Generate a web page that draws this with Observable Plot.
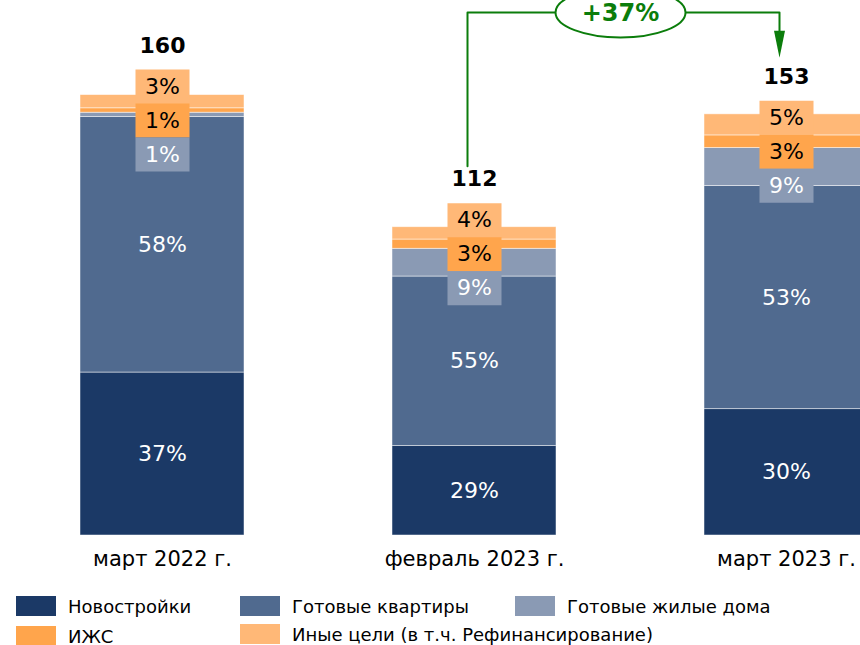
<!DOCTYPE html>
<html><head><meta charset="utf-8">
<script src="https://cdn.jsdelivr.net/npm/d3@7"></script>
<script src="https://cdn.jsdelivr.net/npm/@observablehq/plot@0.6"></script>
<style>
html,body{margin:0;padding:0;background:#fff;overflow:hidden;width:860px;height:645px;}
#wrap{position:relative;width:860px;height:645px;overflow:hidden;font-family:"DejaVu Sans",sans-serif;}
#wrap svg{max-width:none !important;position:absolute;left:0;top:0;}
.leg{position:absolute;display:flex;align-items:center;font-size:18px;color:#000;white-space:nowrap;height:20px;}
.sw{width:40px;height:20px;margin-right:12px;flex:none;}
</style></head><body><div id="wrap"></div>
<script>
// ---- data ----
const periods = ["март 2022 г.", "февраль 2023 г.", "март 2023 г."];
const totals = [160, 112, 153];
const categories = ["Новостройки", "Готовые квартиры", "Готовые жилые дома", "ИЖС", "Иные цели (в т.ч. Рефинансирование)"];
const shareNew = [37, 29, 30];
const shareFlats = [58, 55, 53];
const shareHouses = [1, 9, 9];
const shareIzhs = [1, 3, 3];
const shareOther = [3, 4, 5];
const colors = ["#1b3966", "#506a8f", "#8a9ab4", "#ffa54c", "#ffb877"];
const textColors = ["#fff", "#fff", "#fff", "#000", "#000"];
const green = "#0b7d0b";

// ---- layout ----
const W = 948, H = 580, mTop = 12, mBottom = 45, yMax = 190;
const pInner = 0.474, pOuter = 0.256;
const k = (H - mBottom - mTop) / yMax;           // px per unit
const step = W / (periods.length - pInner + 2 * pOuter);
const boxH = 34, boxW = 54, base = 10;

const shares = [shareNew, shareFlats, shareHouses, shareIzhs, shareOther];
const rows = [];
const anchors = [];
periods.forEach((p, i) => {
  let cum = 0;
  categories.forEach((c, j) => {
    const v = totals[i] * shares[j][i] / 100;
    rows.push({period: p, category: c, share: shares[j][i], y1: cum, y2: cum + v, mid: cum + v / 2, ci: j});
    if (j === 3) anchors.push({period: p, y: cum + v / 2, total: totals[i]});
    cum += v;
  });
});

const boxSym = {draw(ctx) { ctx.rect(-boxW / 2, -boxH / 2, boxW, boxH); }};
const ellipseSym = {draw(ctx) {
  const rx = 65, ry = 25, c = 0.5523;
  ctx.moveTo(rx, 0);
  ctx.bezierCurveTo(rx, ry * c, rx * c, ry, 0, ry);
  ctx.bezierCurveTo(-rx * c, ry, -rx, ry * c, -rx, 0);
  ctx.bezierCurveTo(-rx, -ry * c, -rx * c, -ry, 0, -ry);
  ctx.bezierCurveTo(rx * c, -ry, rx, -ry * c, rx, 0);
  ctx.closePath();
}};
const triSym = {draw(ctx) { ctx.moveTo(-5.5, -27); ctx.lineTo(5.5, -27); ctx.lineTo(0, 0); ctx.closePath(); }};

const totalDy = base - boxH - boxH / 2 - 24;
const smallMarks = [];
[[4, -1], [3, 0], [2, 1]].forEach(([ci, off]) => {
  const sub = rows.filter(d => d.ci === ci).map(d => ({...d, ay: anchors.find(a => a.period === d.period).y}));
  smallMarks.push(Plot.dot(sub, {x: "period", y: "ay", symbol: boxSym, fill: colors[ci], stroke: "none", dy: base + off * boxH}));
  smallMarks.push(Plot.text(sub, {x: "period", y: "ay", text: d => d.share + "%", fill: textColors[ci], fontSize: 22, dy: base + off * boxH}));
});

// growth bracket
const a2 = anchors[1], a3 = anchors[2];
const lowY = a2.y + (-totalDy + 13) / k;
const tipY = a3.y + (-totalDy + 19) / k;
const bracket = [
  {x: periods[1], y: lowY}, {x: periods[1], y: yMax}, {x: periods[2], y: yMax}, {x: periods[2], y: tipY + 20 / k}
];
const growth = "+" + Math.round((totals[2] / totals[1] - 1) * 100) + "%";

const chart = Plot.plot({
  width: W, height: H,
  marginTop: mTop, marginBottom: mBottom, marginLeft: 0, marginRight: 0,
  style: {fontFamily: "DejaVu Sans, sans-serif", background: "#fff", maxWidth: "none"},
  x: {domain: periods, paddingInner: pInner, paddingOuter: pOuter, label: null},
  y: {domain: [0, yMax], axis: null},
  color: {domain: categories, range: colors},
  marks: [
    Plot.barY(rows, {x: "period", y1: "y1", y2: "y2", fill: "category", stroke: "#fff", strokeOpacity: 0.6, strokeWidth: 0.8}),
    Plot.text(rows.filter(d => d.share >= 20), {x: "period", y: "mid", text: d => d.share + "%", fill: "#fff", fontSize: 22}),
    ...smallMarks,
    Plot.text(anchors, {x: "period", y: "y", text: "total", dy: totalDy, fontSize: 22, fontWeight: "bold", fill: "#000"}),
    Plot.line(bracket, {x: "x", y: "y", stroke: green, strokeWidth: 2, dx: -7, curve: "linear"}),
    Plot.dot([{x: periods[2], y: tipY}], {x: "x", y: "y", symbol: triSym, fill: green, stroke: "none", dx: -7}),
    Plot.dot([{x: periods[1], y: yMax}], {x: "x", y: "y", symbol: ellipseSym, fill: "#fff", stroke: green, strokeWidth: 2, dx: step / 2 - 10}),
    Plot.text([{x: periods[1], y: yMax, t: growth}], {x: "x", y: "y", text: "t", fill: green, fontSize: 24, fontWeight: "bold", dx: step / 2 - 10, dy: 1}),
    Plot.axisX({tickSize: 0, tickPadding: 16, fontSize: 21, label: null, fill: "#000"})
  ]
});
const wrap = document.getElementById("wrap");
wrap.appendChild(chart);

// legend
const legPos = [[16, 596], [240, 596], [515, 596], [16, 626], [240, 624]];
categories.forEach((c, i) => {
  const d = document.createElement("div");
  d.className = "leg";
  d.style.left = legPos[i][0] + "px";
  d.style.top = legPos[i][1] + "px";
  const s = document.createElement("div");
  s.className = "sw";
  s.style.background = colors[i];
  const t = document.createElement("span");
  t.textContent = c;
  d.appendChild(s); d.appendChild(t);
  wrap.appendChild(d);
});
</script></body></html>
